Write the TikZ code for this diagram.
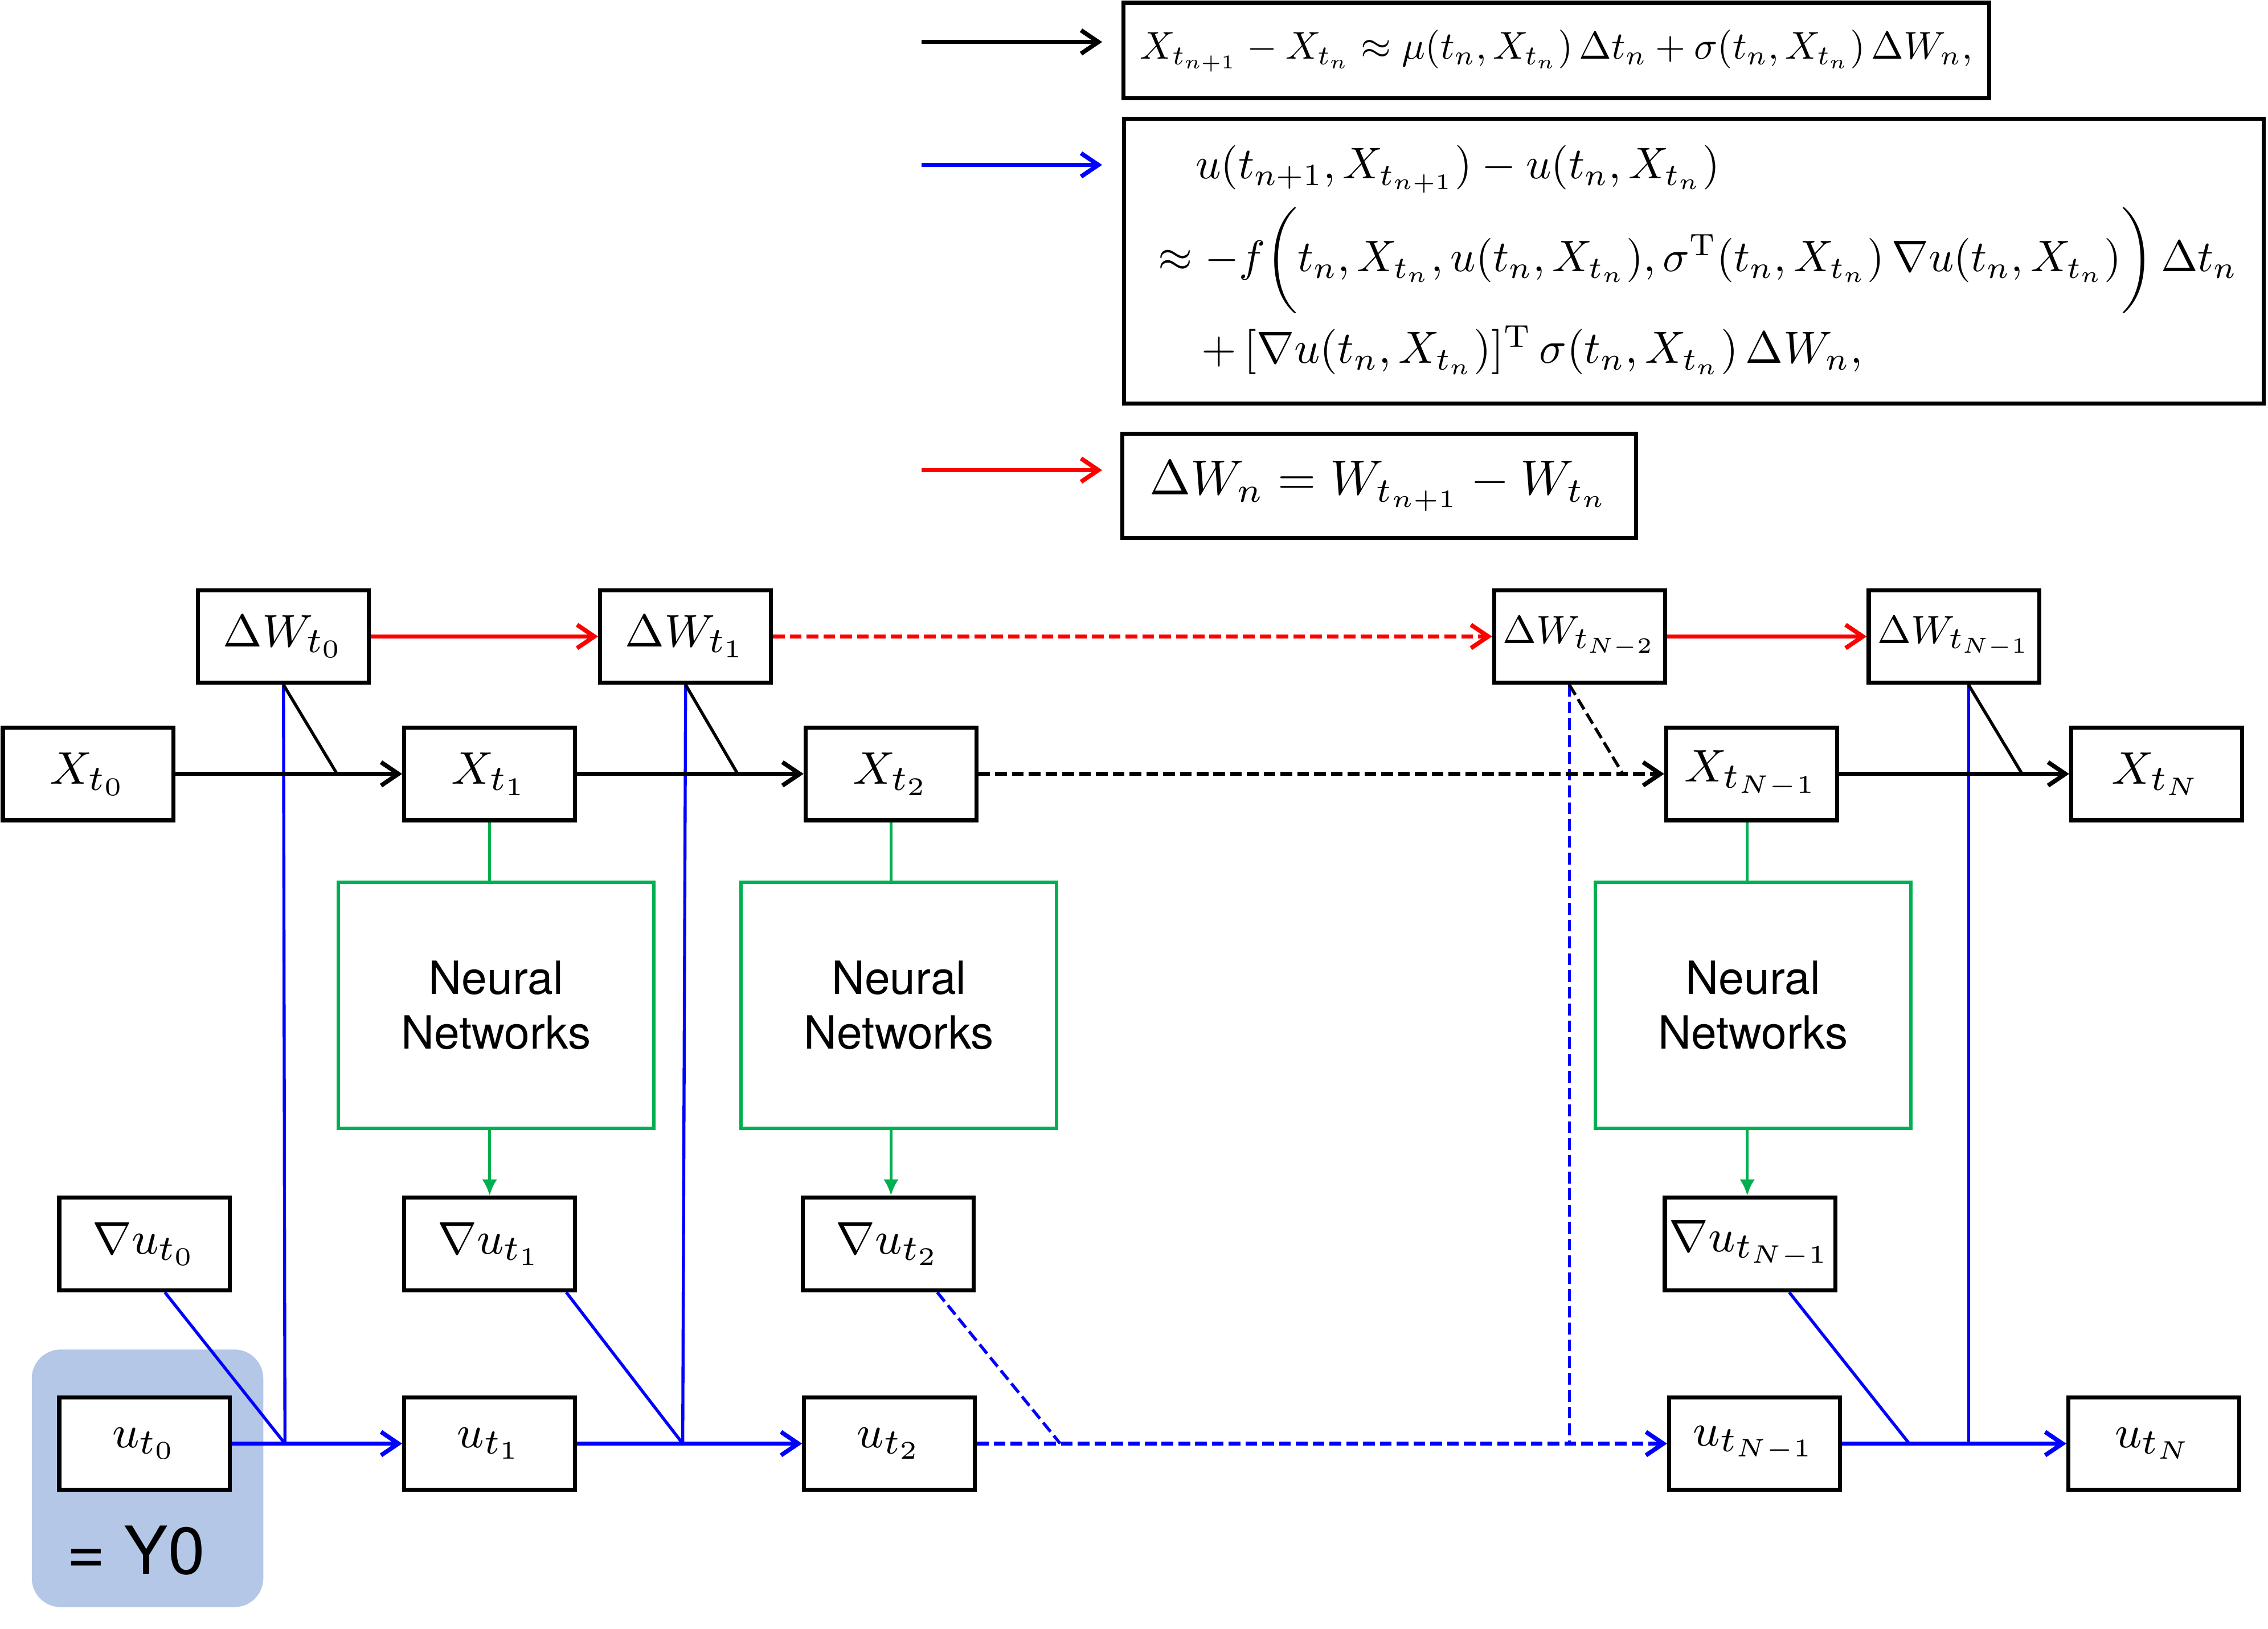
\documentclass[tikz,border=0pt]{standalone}
\usepackage{fontspec}
\usepackage{amsmath}
\usepackage{graphicx}
\usetikzlibrary{arrows.meta,calc}
\newfontfamily\nnfont{TeX Gyre Heros}
\definecolor{ublue}{RGB}{0,0,255}
\definecolor{ured}{RGB}{255,0,0}
\definecolor{ugreen}{RGB}{0,176,80}
\definecolor{yhl}{RGB}{180,199,231}
\begin{document}
\begin{tikzpicture}[x=0.01cm,y=-0.01cm,
  vbox/.style={draw, line width=0.8pt, fill=white, minimum width=1.18cm, minimum height=0.64cm, inner sep=0pt, font=\fontsize{9.5}{11}\selectfont},
  nnbox/.style={draw=ugreen, line width=0.7pt, minimum width=2.18cm, minimum height=1.70cm, align=center, font=\nnfont\fontsize{9}{10.8}\selectfont},
  eqbox/.style={draw, line width=0.8pt, inner sep=0pt},
  eqline/.style={inner sep=0pt, anchor=west},
  tip/.style={-{Straight Barb[length=3.4pt,width=4.6pt]}},
  gtip/.style={-{Latex[length=3.2pt,width=3pt]}},
  mainln/.style={line width=0.85pt},
  thinln/.style={line width=0.6pt},
  dsh/.style={dash pattern=on 2.3pt off 1pt},
]
\useasboundingbox (0,0) rectangle (1568,1126);

% ---------- legend / formulas ----------
\node[eqbox, minimum width=5.98cm, minimum height=0.66cm] (F1) at (1076,35)
  {\resizebox{5.75cm}{!}{$X_{t_{n+1}}-X_{t_n}\approx\mu(t_n,X_{t_n})\,\Delta t_n+\sigma(t_n,X_{t_n})\,\Delta W_n,$}};
\coordinate (F2a) at (777,82);
\coordinate (F2b) at (1565,279);
\draw[line width=0.8pt] (F2a) rectangle (F2b);
\node[eqline] (L1) at (826,117)
  {\resizebox{3.62cm}{!}{$u(t_{n+1},X_{t_{n+1}})-u(t_n,X_{t_n})$}};
\node[eqline] (L2) at (800,180)
  {\resizebox{7.46cm}{!}{$\approx -f\bigg(t_n,X_{t_n},u(t_n,X_{t_n}),\sigma^{\mathrm{T}}(t_n,X_{t_n})\,\nabla u(t_n,X_{t_n})\bigg)\,\Delta t_n$}};
\node[eqline] (L3) at (830,242)
  {\resizebox{4.57cm}{!}{$+\,[\nabla u(t_n,X_{t_n})]^{\mathrm{T}}\,\sigma(t_n,X_{t_n})\,\Delta W_n,$}};
\node[eqbox, minimum width=3.55cm, minimum height=0.72cm] (F3) at (953.5,336)
  {\resizebox{3.17cm}{!}{$\Delta W_n = W_{t_{n+1}} - W_{t_n}$}};

\coordinate (ka) at (637,29);  \coordinate (kb) at (762,29);
\coordinate (ba) at (637,114); \coordinate (bb) at (762,114);
\coordinate (ra) at (637,325); \coordinate (rb) at (762,325);
\draw[mainln, tip] (ka) -- (kb);
\draw[mainln, tip, ublue] (ba) -- (bb);
\draw[mainln, tip, ured] (ra) -- (rb);

% ---------- highlight ----------
\node[fill=yhl, rounded corners=0.2cm, minimum width=1.60cm, minimum height=1.78cm, inner sep=0pt] (hl) at (102,1022) {};
\node[font=\nnfont\fontsize{13}{15}\selectfont, inner sep=0pt] (y0t) at (94,1072) {= Y0};

% ---------- nodes ----------
\node[vbox] (dW0)  at (196,440)  {$\Delta W_{t_0}$};
\node[vbox] (dW1)  at (474,440)  {$\Delta W_{t_1}$};
\node[vbox] (dWN2) at (1092,440) {\resizebox{1.06cm}{!}{$\Delta W_{t_{N-2}}$}};
\node[vbox] (dWN1) at (1351,440) {\resizebox{1.06cm}{!}{$\Delta W_{t_{N-1}}$}};

\node[vbox] (X0)  at (61,535)    {$X_{t_0}$};
\node[vbox] (X1)  at (338.5,535) {$X_{t_1}$};
\node[vbox] (X2)  at (616,535)   {$X_{t_2}$};
\node[vbox] (XN1) at (1211,535)  {$X_{t_{N-1}}$};
\node[vbox] (XN)  at (1491,535)  {$X_{t_N}$};

\node[nnbox] (NN1) at (343,695)   {Neural\\Networks};
\node[nnbox] (NN2) at (621.5,695) {Neural\\Networks};
\node[nnbox] (NN3) at (1212,695)  {Neural\\Networks};

\node[vbox] (gu0)  at (100,860)   {$\nabla u_{t_0}$};
\node[vbox] (gu1)  at (338.5,860) {$\nabla u_{t_1}$};
\node[vbox] (gu2)  at (614,860)   {$\nabla u_{t_2}$};
\node[vbox] (guN1) at (1210,860)  {$\nabla u_{t_{N-1}}$};

\node[vbox] (u0)  at (100,998)   {$u_{t_0}$};
\node[vbox] (u1)  at (338.5,998) {$u_{t_1}$};
\node[vbox] (u2)  at (615,998)   {$u_{t_2}$};
\node[vbox] (uN1) at (1213,998)  {$u_{t_{N-1}}$};
\node[vbox] (uN)  at (1489,998)  {$u_{t_N}$};

% junction coordinates
\coordinate (jx0) at (233,535);
\coordinate (jx1) at (510,535);
\coordinate (jx2) at (1122,535);
\coordinate (jx3) at (1398,535);
\coordinate (ju0) at (197,998);
\coordinate (ju1) at (472,998);
\coordinate (ju2) at (733,998);
\coordinate (ju2b) at (1085,998);
\coordinate (ju3) at (1320,998);
\coordinate (ju3b) at (1361,998);

% ---------- red (Delta W chain) ----------
\draw[mainln, tip, ured] (dW0) -- (dW1);
\draw[mainln, tip, ured, dsh] (dW1) -- (dWN2);
\draw[mainln, tip, ured] (dWN2) -- (dWN1);

% ---------- blue verticals ----------
\draw[thinln, ublue] (dW0.south) -- (ju0);
\draw[thinln, ublue] (dW1.south) -- (ju1);
\draw[thinln, ublue, dsh] ($(dWN2.south)+(-7,0)$) -- (ju2b);
\draw[thinln, ublue] ($(dWN1.south)+(10,0)$) -- (ju3b);

% ---------- black (X chain) ----------
\draw[mainln, tip] (X0) -- (X1);
\draw[mainln, tip] (X1) -- (X2);
\draw[mainln, tip, dsh] (X2) -- (XN1);
\draw[mainln, tip] (XN1) -- (XN);
\draw[thinln] (dW0.south) -- (jx0);
\draw[thinln] (dW1.south) -- (jx1);
\draw[thinln, dsh] ($(dWN2.south)+(-7,0)$) -- (jx2);
\draw[thinln] ($(dWN1.south)+(10,0)$) -- (jx3);

% ---------- green ----------
\draw[thinln, ugreen] (X1.south) -- (X1.south |- NN1.north);
\draw[thinln, ugreen, gtip] (X1.south |- NN1.south) -- (gu1.north);
\draw[thinln, ugreen] (X2.south) -- (X2.south |- NN2.north);
\draw[thinln, ugreen, gtip] (X2.south |- NN2.south) -- (X2.south |- gu2.north);
\draw[thinln, ugreen] ($(XN1.south)+(-3,0)$) -- ($(XN1.south |- NN3.north)+(-3,0)$);
\draw[thinln, ugreen, gtip] ($(XN1.south |- NN3.south)+(-3,0)$) -- ($(XN1.south |- guN1.north)+(-3,0)$);

% ---------- blue (u chain) ----------
\draw[thinln, ublue] ($(gu0.south)+(14,0)$) -- (ju0);
\draw[thinln, ublue] ($(gu1.south)+(53,0)$) -- (ju1);
\draw[thinln, ublue, dsh] ($(gu2.south)+(34,0)$) -- (ju2);
\draw[thinln, ublue] ($(guN1.south)+(27,0)$) -- (ju3);
\draw[mainln, tip, ublue] (u0) -- (u1);
\draw[mainln, tip, ublue] (u1) -- (u2);
\draw[mainln, tip, ublue, dsh] (u2) -- (uN1);
\draw[mainln, tip, ublue] (uN1) -- (uN);
\end{tikzpicture}
\end{document}
